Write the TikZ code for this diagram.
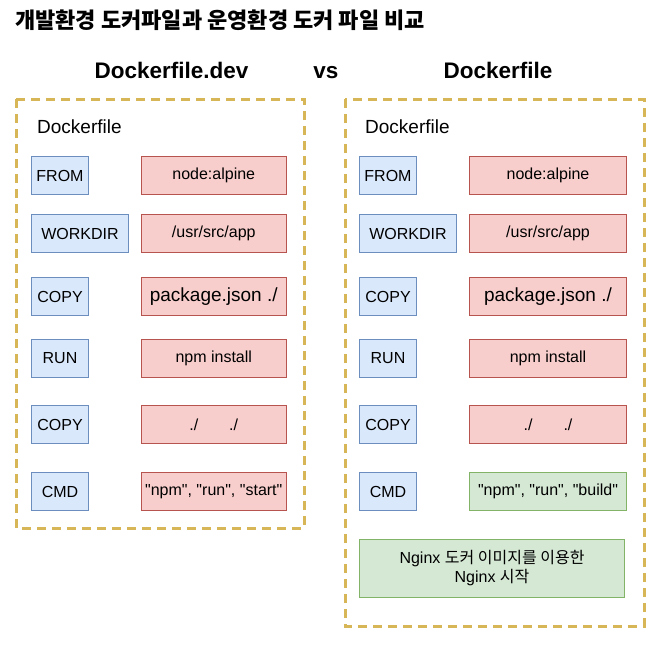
\documentclass[tikz,border=0pt]{standalone}
\usepackage{fontspec}
\setmainfont{Liberation Sans}[Ligatures=TeXOff]
\newfontfamily\kr{Noto Sans CJK KR}
\definecolor{keyfill}{HTML}{DAE8FC}
\definecolor{keydraw}{HTML}{6C8EBF}
\definecolor{valfill}{HTML}{F8CECC}
\definecolor{valdraw}{HTML}{B85450}
\definecolor{newfill}{HTML}{D5E8D4}
\definecolor{newdraw}{HTML}{82B366}
\definecolor{framedraw}{HTML}{D6B656}
\def\px#1#2{\fontsize{#1}{#2}\selectfont}
\tikzstyle{ckey}   = [fill=keyfill, draw=keydraw, line width=1pt, inner sep=0pt, anchor=north west, minimum height=38pt, font=\px{16}{19}]
\tikzstyle{cval}   = [fill=valfill, draw=valdraw, line width=1pt, inner sep=0pt, anchor=north west, minimum height=38pt, font=\px{16}{19}]
\tikzstyle{cnew}   = [fill=newfill, draw=newdraw, line width=1pt, inner sep=0pt, anchor=north west, minimum height=38pt, font=\px{16}{19}]
\tikzstyle{cframe} = [draw=framedraw, line width=3pt, dash pattern=on 9pt off 6pt]
\tikzstyle{chead}  = [inner sep=0pt, anchor=base, font=\px{22.5}{27}\bfseries]

\begin{document}
\begin{tikzpicture}[x=1pt, y=-1pt]
    \useasboundingbox (0,0) rectangle (656,646);
    \node[inner sep=0pt, anchor=base west, font=\px{22}{26}\kr\bfseries] (title) at (15,28) {개발환경 도커파일과 운영환경 도커 파일 비교};
    \node[chead] (devhead) at (171.5,78) {Dockerfile.dev};
    \node[chead] (vs)      at (326,78)   {vs};
    \node[chead] (prodhead) at (498,78)  {Dockerfile};
    % frames
    \draw[cframe] (16,99) rectangle (304,528);
    \draw[cframe] (345,99) rectangle (644,626);
    \node[inner sep=0pt, anchor=west, font=\px{19}{23}] (ldock) at (37,127) {Dockerfile};
    \node[inner sep=0pt, anchor=west, font=\px{19}{23}] (rdock) at (365,127) {Dockerfile};
    % instruction rows, both sides
    \foreach \s/\kx/\vx/\vw in {l/31/141/144.5, r/359/469/157} {
      \foreach \n/\y/\kw/\k in {from/156/57/FROM, work/214/97/WORKDIR, copya/277/57/COPY, run/339/57/RUN, copyb/405/57/COPY, cmd/472/57/CMD}
        \node[ckey, minimum width=\kw pt] (\s\n) at (\kx,\y) {\k};
      \foreach \n/\y/\v in {from/156/node:alpine, work/214/{/usr/src/app}, copya/277/{\px{19}{22}package.json ./}, run/339/npm install, copyb/405/{./\hspace{31pt}./}}
        \node[cval, minimum width=\vw pt] (\s\n v) at (\vx,\y) {\v};
    }
    \node[cval, minimum width=144.5pt] (lcmdv) at (141,472) {"npm", "run", "start"};
    \node[cnew, minimum width=157pt]   (rcmdv) at (469,472) {"npm", "run", "build"};
    \node[cnew, minimum width=265pt, minimum height=58pt, align=center] (nginx) at (359,539) {Nginx {\kr 도커 이미지를 이용한}\\Nginx {\kr 시작}};
\end{tikzpicture}
\end{document}
